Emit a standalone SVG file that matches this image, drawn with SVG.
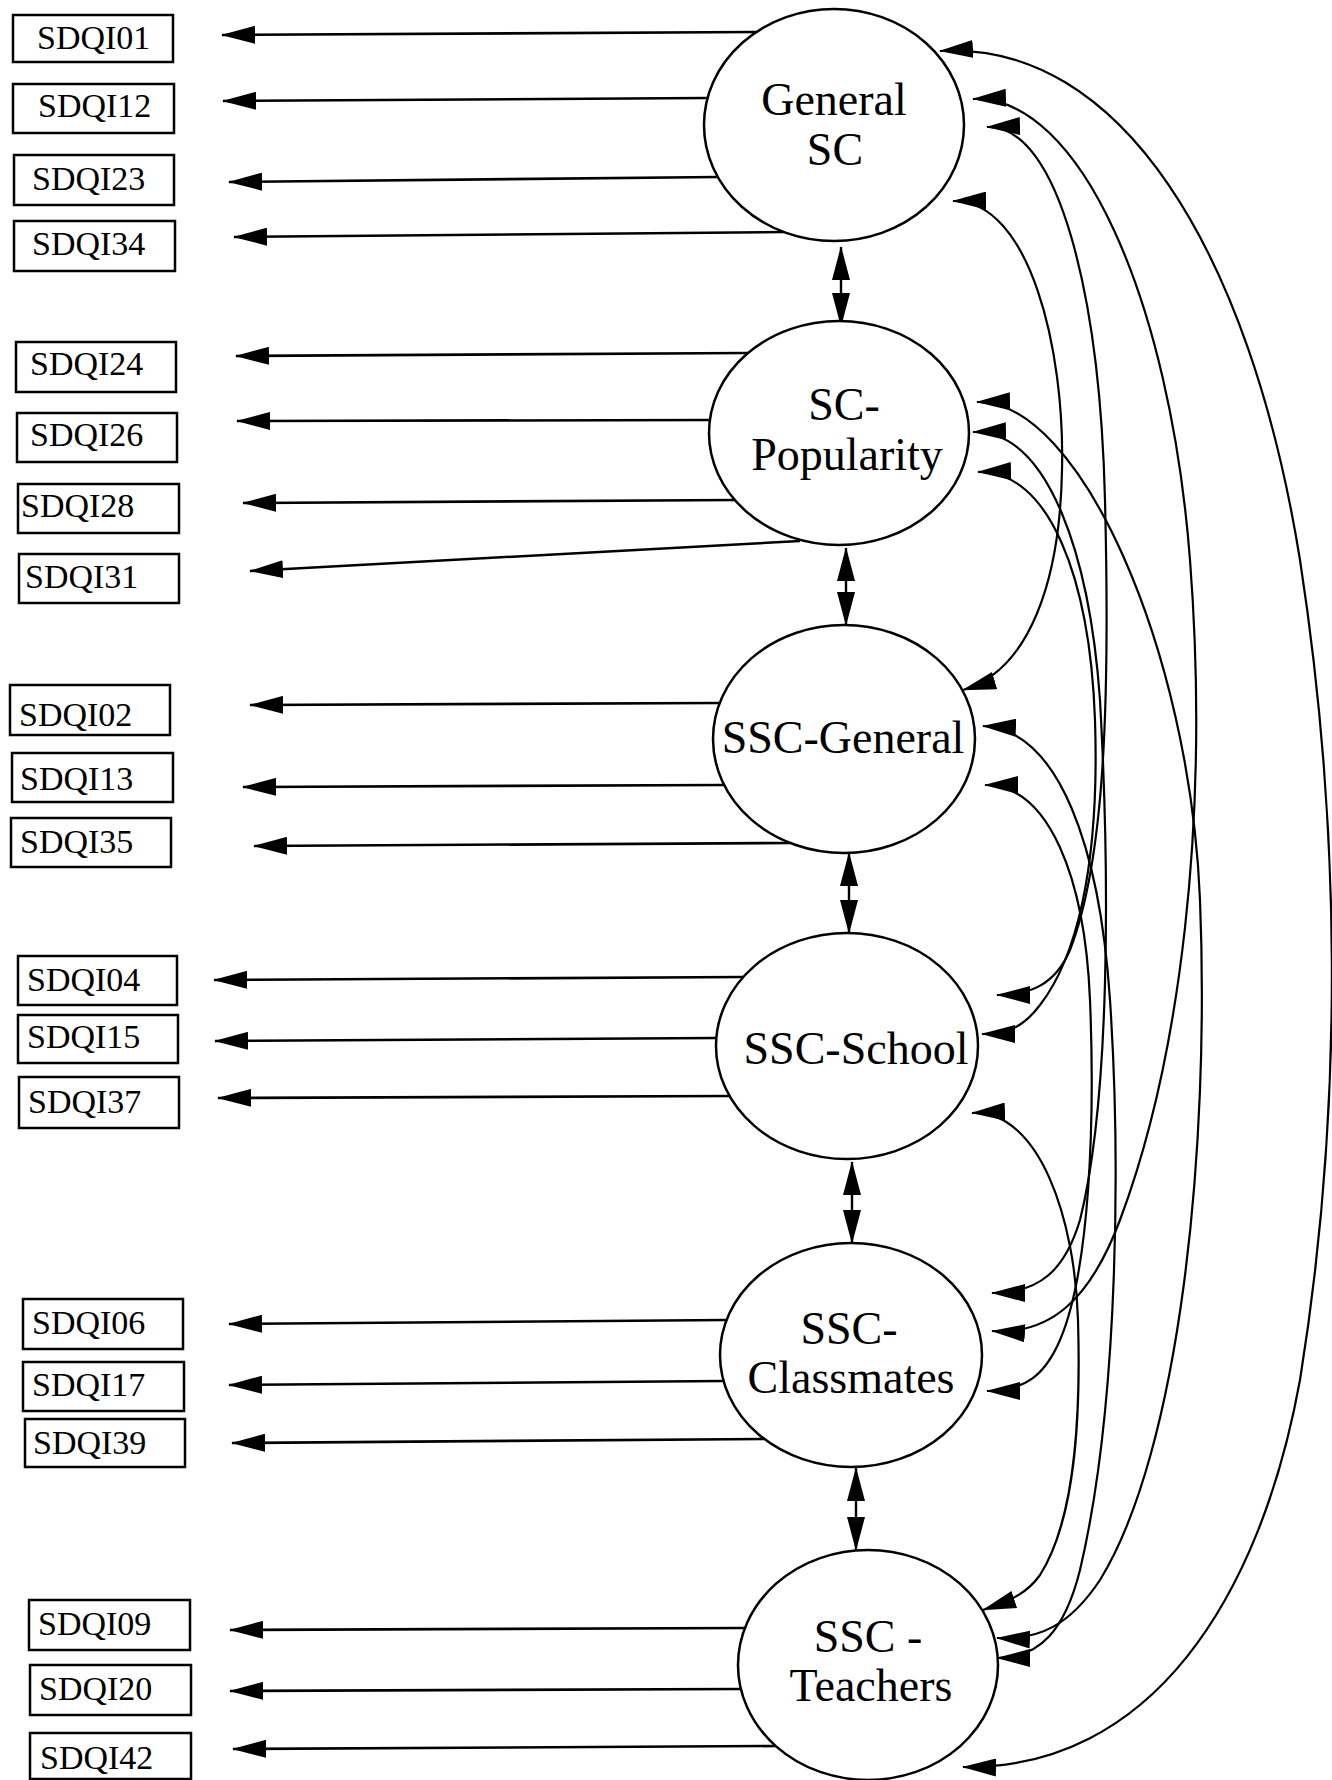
<svg xmlns="http://www.w3.org/2000/svg" width="1332" height="1780" viewBox="0 0 1332 1780">
  <style>
    .item rect { fill: #fff; stroke: #000; stroke-width: 2.5; }
    .item text { font-family: "Liberation Serif", "Times New Roman", serif; font-size: 34px; fill: #000; }
    .factor ellipse { fill: #fff; stroke: #000; stroke-width: 2.5; }
    .factor text { font-family: "Liberation Serif", "Times New Roman", serif; font-size: 46px; fill: #000; text-anchor: middle; }
    .load line { stroke: #000; stroke-width: 2.6; marker-end: url(#ah); }
    .cov line { stroke: #000; stroke-width: 2.4; marker-start: url(#ah); marker-end: url(#ah); }
    .corr path { fill: none; stroke: #000; stroke-width: 2.2; marker-start: url(#ah); marker-end: url(#ah); }
  </style>
  <defs>
    <marker id="ah" viewBox="0 0 34 18" refX="33" refY="9" markerWidth="34" markerHeight="18" markerUnits="userSpaceOnUse" orient="auto-start-reverse">
      <path d="M0,0 L34,9 L0,18 z" fill="#000"/>
    </marker>
  </defs>
  <rect width="1332" height="1780" fill="#fff"/>

  <g id="connectors">
    <!-- factor loadings: latent factor to indicator -->
    <g class="load">
      <line x1="756" y1="32" x2="222" y2="35"/>
      <line x1="707" y1="98" x2="223" y2="101"/>
      <line x1="718" y1="177" x2="229" y2="182"/>
      <line x1="784" y1="232" x2="234" y2="237"/>
      <line x1="748" y1="353" x2="236" y2="356"/>
      <line x1="710" y1="420" x2="237" y2="421"/>
      <line x1="735" y1="500" x2="243" y2="503"/>
      <line x1="800" y1="541" x2="250" y2="571"/>
      <line x1="720" y1="703" x2="250" y2="705"/>
      <line x1="724" y1="785" x2="243" y2="787"/>
      <line x1="790" y1="843" x2="254" y2="846"/>
      <line x1="743" y1="977" x2="214" y2="980"/>
      <line x1="716" y1="1038" x2="215" y2="1041"/>
      <line x1="729" y1="1096" x2="218" y2="1098"/>
      <line x1="727" y1="1320" x2="229" y2="1324"/>
      <line x1="724" y1="1381" x2="229" y2="1385"/>
      <line x1="764" y1="1439" x2="232" y2="1443"/>
      <line x1="745" y1="1628" x2="230" y2="1630"/>
      <line x1="741" y1="1689" x2="230" y2="1691"/>
      <line x1="776" y1="1746" x2="233" y2="1749"/>
    </g>
    <!-- covariances between neighbouring factors -->
    <g class="cov">
      <line x1="841" y1="247" x2="841" y2="326"/>
      <line x1="846" y1="548" x2="846" y2="625"/>
      <line x1="849" y1="853" x2="849" y2="933"/>
      <line x1="852" y1="1162" x2="852" y2="1243"/>
      <line x1="856" y1="1468" x2="856" y2="1550"/>
    </g>
    <!-- covariances between non-adjacent factors -->
    <g class="corr">
      <path d="M940,51 C1120,40 1250,250 1300,560 C1340,820 1345,1100 1300,1380 C1260,1600 1150,1770 963,1767"/>
      <path d="M973,99 C1080,95 1170,300 1190,560 C1210,820 1180,1060 1120,1220 C1090,1300 1050,1335 992,1331"/>
      <path d="M987,127 C1060,125 1100,300 1105,500 C1110,700 1105,860 1070,950 C1055,985 1030,995 997,995"/>
      <path d="M953,201 C1030,200 1065,350 1062,470 C1060,580 1030,670 963,690"/>
      <path d="M977,402 C1080,400 1190,650 1200,900 C1210,1150 1180,1450 1100,1580 C1070,1625 1040,1640 997,1638"/>
      <path d="M973,432 C1050,430 1090,560 1100,700 C1110,880 1110,1100 1080,1220 C1065,1270 1040,1293 992,1293"/>
      <path d="M978,472 C1050,470 1090,580 1095,720 C1100,870 1075,960 1040,1005 C1025,1025 1010,1034 982,1034"/>
      <path d="M983,726 C1060,730 1100,850 1110,1000 C1120,1150 1120,1400 1080,1570 C1065,1630 1040,1658 997,1658"/>
      <path d="M985,785 C1050,785 1085,880 1090,1000 C1095,1120 1090,1270 1060,1340 C1045,1375 1025,1391 987,1391"/>
      <path d="M972,1113 C1040,1110 1075,1220 1078,1320 C1081,1420 1075,1520 1040,1575 C1028,1592 1013,1600 983,1610"/>
    </g>
  </g>

  <!-- latent factors -->
  <g id="general-sc" class="factor">
    <ellipse cx="834" cy="125" rx="130" ry="116"/>
    <text x="834" y="115">General</text>
    <text x="835" y="165">SC</text>
  </g>
  <g id="sc-popularity" class="factor">
    <ellipse cx="839" cy="433" rx="130" ry="112"/>
    <text x="844" y="420">SC-</text>
    <text x="847" y="470">Popularity</text>
  </g>
  <g id="ssc-general" class="factor">
    <ellipse cx="844" cy="739" rx="131" ry="114"/>
    <text x="843" y="753">SSC-General</text>
  </g>
  <g id="ssc-school" class="factor">
    <ellipse cx="847" cy="1046" rx="131" ry="113"/>
    <text x="856" y="1064">SSC-School</text>
  </g>
  <g id="ssc-classmates" class="factor">
    <ellipse cx="851" cy="1355" rx="131" ry="112"/>
    <text x="849" y="1344">SSC-</text>
    <text x="851" y="1393">Classmates</text>
  </g>
  <g id="ssc-teachers" class="factor">
    <ellipse cx="868" cy="1665" rx="130" ry="115"/>
    <text x="868" y="1652">SSC -</text>
    <text x="871" y="1701">Teachers</text>
  </g>

  <!-- observed indicators -->
  <g id="sdqi01" class="item"><rect x="13" y="15" width="160" height="47"/><text x="37" y="49">SDQI01</text></g>
  <g id="sdqi12" class="item"><rect x="13" y="84" width="161" height="49"/><text x="38" y="117">SDQI12</text></g>
  <g id="sdqi23" class="item"><rect x="14" y="155" width="160" height="50"/><text x="32" y="190">SDQI23</text></g>
  <g id="sdqi34" class="item"><rect x="14" y="221" width="161" height="50"/><text x="32" y="255">SDQI34</text></g>
  <g id="sdqi24" class="item"><rect x="16" y="342" width="160" height="50"/><text x="30" y="375">SDQI24</text></g>
  <g id="sdqi26" class="item"><rect x="17" y="413" width="160" height="49"/><text x="30" y="446">SDQI26</text></g>
  <g id="sdqi28" class="item"><rect x="18" y="484" width="161" height="49"/><text x="21" y="517">SDQI28</text></g>
  <g id="sdqi31" class="item"><rect x="19" y="554" width="160" height="49"/><text x="25" y="588">SDQI31</text></g>
  <g id="sdqi02" class="item"><rect x="10" y="685" width="160" height="50"/><text x="19" y="726">SDQI02</text></g>
  <g id="sdqi13" class="item"><rect x="12" y="753" width="161" height="49"/><text x="20" y="790">SDQI13</text></g>
  <g id="sdqi35" class="item"><rect x="11" y="818" width="160" height="49"/><text x="20" y="853">SDQI35</text></g>
  <g id="sdqi04" class="item"><rect x="18" y="956" width="159" height="49"/><text x="27" y="991">SDQI04</text></g>
  <g id="sdqi15" class="item"><rect x="18" y="1015" width="160" height="48"/><text x="27" y="1048">SDQI15</text></g>
  <g id="sdqi37" class="item"><rect x="19" y="1077" width="160" height="51"/><text x="28" y="1113">SDQI37</text></g>
  <g id="sdqi06" class="item"><rect x="23" y="1299" width="160" height="50"/><text x="32" y="1334">SDQI06</text></g>
  <g id="sdqi17" class="item"><rect x="23" y="1362" width="161" height="49"/><text x="32" y="1396">SDQI17</text></g>
  <g id="sdqi39" class="item"><rect x="25" y="1419" width="160" height="48"/><text x="33" y="1454">SDQI39</text></g>
  <g id="sdqi09" class="item"><rect x="29" y="1600" width="161" height="50"/><text x="38" y="1635">SDQI09</text></g>
  <g id="sdqi20" class="item"><rect x="30" y="1665" width="161" height="50"/><text x="39" y="1700">SDQI20</text></g>
  <g id="sdqi42" class="item"><rect x="30" y="1733" width="161" height="46"/><text x="40" y="1769">SDQI42</text></g>
</svg>
